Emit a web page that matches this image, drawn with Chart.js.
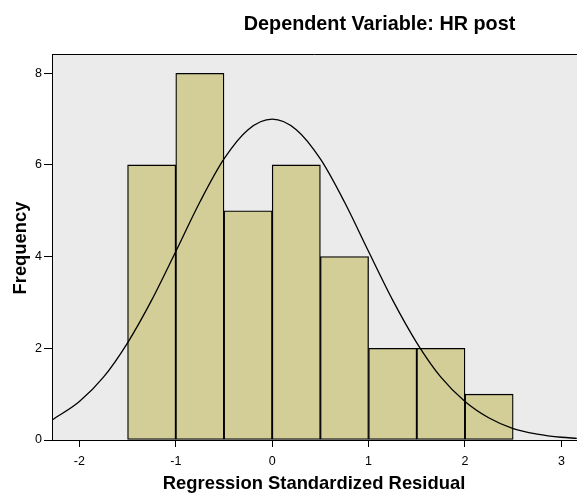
<!DOCTYPE html>
<html>
<head>
<meta charset="utf-8">
<title>Histogram - HR post</title>
<script src="https://cdn.jsdelivr.net/npm/chart.js@4/dist/chart.umd.min.js"></script>
<style>
  html, body { margin: 0; padding: 0; background: #fff; }
  #wrap { width: 577px; height: 495px; }
</style>
</head>
<body>
<div id="wrap"><canvas id="hist" width="577" height="495"></canvas></div>
<script>
// histogram bins (centres of 0.5-wide bins) and counts
const binCentres = [-1.25, -0.75, -0.25, 0.25, 0.75, 1.25, 1.75, 2.25];
const frequencies = [6, 8, 5, 6, 4, 2, 2, 1];

// normal curve
const curveX = [-2.28, -2.0, -1.75, -1.5, -1.25, -1.0, -0.75, -0.5, -0.25, 0, 0.25, 0.5, 0.75, 1.0, 1.25, 1.5, 1.75, 2.0, 2.25, 2.5, 2.75, 3.0, 3.16];
const curveY = [0.44, 0.84, 1.37, 2.12, 3.05, 4.11, 5.19, 6.13, 6.77, 7.0, 6.77, 6.13, 5.19, 4.11, 3.05, 2.12, 1.37, 0.84, 0.48, 0.25, 0.13, 0.06, 0.036];

const xTicks = [-2, -1, 0, 1, 2, 3];
const yTicks = [0, 2, 4, 6, 8];

const FONT = '"Liberation Sans", Arial, Helvetica, sans-serif';

const plotFrame = {
  id: 'plotFrame',
  beforeDraw(chart) {
    const { ctx, chartArea: a } = chart;
    ctx.save();
    ctx.fillStyle = '#ebebeb';
    ctx.fillRect(a.left, a.top, a.right - a.left, a.bottom - a.top);
    ctx.restore();
  },
  afterDraw(chart) {
    const { ctx, chartArea: a } = chart;
    ctx.save();
    ctx.strokeStyle = '#000';
    ctx.lineWidth = 1;
    ctx.beginPath();
    ctx.moveTo(a.left, a.top + 0.5);
    ctx.lineTo(a.right, a.top + 0.5);
    ctx.stroke();

    ctx.fillStyle = '#000';
    ctx.textAlign = 'center';
    ctx.textBaseline = 'alphabetic';
    ctx.font = 'bold 19.8px ' + FONT;
    ctx.fillText('Dependent Variable: HR post', 379.5, 30);

    ctx.font = 'bold 18.4px ' + FONT;
    ctx.fillText('Regression Standardized Residual', 314, 489);

    ctx.translate(26, 248);
    ctx.rotate(-Math.PI / 2);
    ctx.fillText('Frequency', 0, 0);
    ctx.restore();
  }
};

new Chart(document.getElementById('hist'), {
  type: 'bar',
  data: {
    datasets: [
      {
        type: 'line',
        label: 'Normal',
        data: curveX.map((x, i) => ({ x: x, y: curveY[i] })),
        borderColor: '#000',
        borderWidth: 1.3,
        pointRadius: 0,
        fill: false,
        cubicInterpolationMode: 'monotone',
        order: 0,
      },
      {
        label: 'Frequency',
        data: binCentres.map((x, i) => ({ x: x, y: frequencies[i] })),
        backgroundColor: '#d3ce97',
        borderColor: '#000',
        borderWidth: 1.3,
        borderSkipped: false,
        barPercentage: 1,
        categoryPercentage: 1,
        order: 1,
      },
    ],
  },
  options: {
    responsive: false,
    animation: false,
    devicePixelRatio: 1,
    layout: { padding: { top: 54, right: 0, left: 0, bottom: 0 } },
    plugins: {
      legend: { display: false },
      tooltip: { enabled: false },
      title: { display: false },
    },
    scales: {
      x: {
        type: 'linear',
        min: -2.284,
        max: 3.162,
        offset: false,
        grid: { offset: false, drawOnChartArea: false, drawTicks: true, tickLength: 7, tickColor: '#000' },
        border: { display: true, color: '#000', width: 1 },
        afterBuildTicks: (scale) => { scale.ticks = xTicks.map(v => ({ value: v })); },
        afterFit: (scale) => { scale.height = 55; },
        ticks: {
          color: '#000',
          padding: 7,
          maxRotation: 0,
          font: { family: FONT, size: 12.5 },
        },
      },
      y: {
        min: 0,
        max: 8.42,
        grid: { drawOnChartArea: false, drawTicks: true, tickLength: 8, tickColor: '#000' },
        border: { display: true, color: '#000', width: 1 },
        afterBuildTicks: (scale) => { scale.ticks = yTicks.map(v => ({ value: v })); },
        afterFit: (scale) => { scale.width = 52; },
        ticks: {
          color: '#000',
          padding: 2,
          font: { family: FONT, size: 12.5 },
        },
      },
    },
  },
  plugins: [plotFrame],
});
</script>
</body>
</html>
